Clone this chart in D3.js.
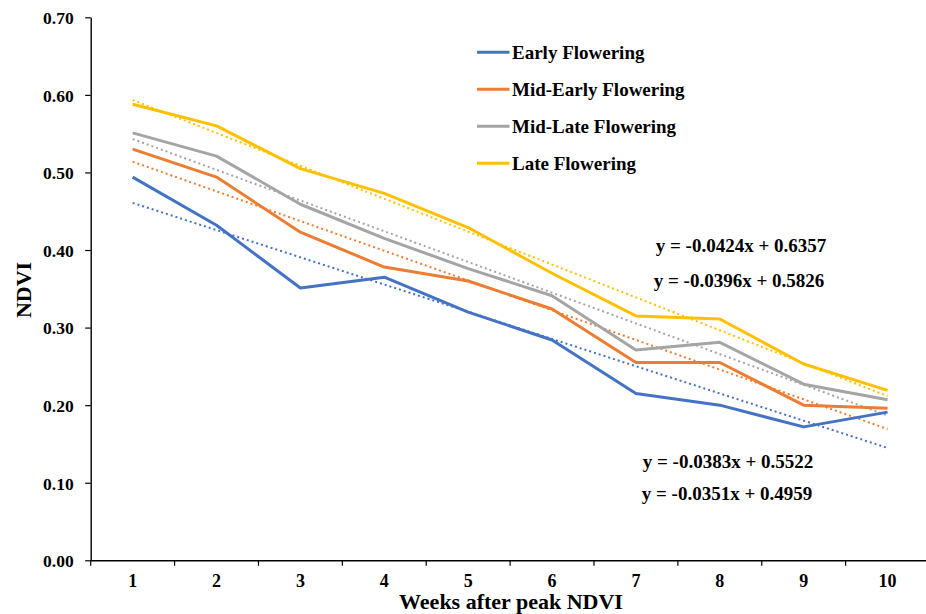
<!DOCTYPE html>
<html>
<head>
<meta charset="utf-8">
<script src="https://cdn.jsdelivr.net/npm/d3@7"></script>
<style>
  body { margin: 0; background: #fff; }
  svg text { font-family: "Liberation Serif", Times, "Times New Roman", "DejaVu Serif", serif; font-weight: bold; fill: #000; }
</style>
</head>
<body>
<div id="chart"></div>
<script>
// chart values
let weeks = [1, 2, 3, 4, 5, 6, 7, 8, 9, 10];
let yTicks = [0, 0.1, 0.2, 0.3, 0.4, 0.5, 0.6, 0.7];
let seriesNames = ["Early Flowering", "Mid-Early Flowering", "Mid-Late Flowering", "Late Flowering"];
let seriesColors = ["#4472C4", "#ED7D31", "#A5A5A5", "#FFC000"];

let early = [0.494, 0.432, 0.351, 0.365, 0.320, 0.284, 0.215, 0.200, 0.172, 0.191];
let midEarly = [0.530, 0.494, 0.423, 0.378, 0.360, 0.324, 0.255, 0.255, 0.200, 0.196];
let midLate = [0.551, 0.521, 0.459, 0.415, 0.376, 0.341, 0.271, 0.281, 0.227, 0.207];
let late = [0.588, 0.560, 0.505, 0.473, 0.429, 0.370, 0.315, 0.311, 0.253, 0.219];

// linear trend lines, as printed on the chart
let slopes = [-0.0351, -0.0383, -0.0396, -0.0424];
let intercepts = [0.4959, 0.5522, 0.5826, 0.6357];

let allSeries = [early, midEarly, midLate, late];

const serif = '"Liberation Serif", Times, "Times New Roman", "DejaVu Serif", serif';

/** set up the svg.*/
let width = 926;
let height = 614;
let margin = { left: 90.7, right: -3.5, top: 17.3, bottom: 53.7 };

let svg = d3.select('#chart')
  .append('svg')
  .attr('width', width)
  .attr('height', height);

let x = d3.scaleBand()
  .domain(weeks)
  .range([margin.left, width - margin.right]);

let y = d3.scaleLinear()
  .domain([0, 0.7])
  .range([height - margin.bottom, margin.top]);

let cx = d => x(d) + x.bandwidth() / 2;

// y axis
let yAxis = svg.append('g')
  .attr('transform', `translate(${margin.left},0)`)
  .call(d3.axisLeft(y).tickValues(yTicks).tickFormat(d3.format('.2f')).tickSize(5.5).tickSizeOuter(0))
  .attr('font-family', serif);
yAxis.select('.domain').attr('stroke-width', 1.4);
yAxis.selectAll('.tick line').attr('stroke-width', 1.2);
yAxis.selectAll('text')
  .attr('x', -17)
  .attr('dy', '0.36em')
  .style('font-size', '17.5px')
  .style('font-family', serif)
  .style('font-weight', 'bold');

// x axis, ticks between categories
let xAxis = svg.append('g')
  .attr('transform', `translate(0,${y(0)})`)
  .call(d3.axisBottom(x).tickSize(0).tickSizeOuter(0))
  .attr('font-family', serif);
xAxis.select('.domain').attr('stroke-width', 1.4);
xAxis.selectAll('text')
  .attr('y', 20.5)
  .attr('dy', '0.36em')
  .style('font-size', '18px')
  .style('font-family', serif)
  .style('font-weight', 'bold');

xAxis.selectAll('.between')
  .data(weeks)
  .enter()
  .append('line')
  .attr('x1', d => x(d))
  .attr('x2', d => x(d))
  .attr('y1', 0)
  .attr('y2', 5.5)
  .attr('stroke', '#000')
  .attr('stroke-width', 1.2);

// trend lines
allSeries.forEach((s, i) => {
  let ends = [weeks[0], weeks[weeks.length - 1]];
  svg.append('line')
    .attr('x1', cx(ends[0]))
    .attr('y1', y(slopes[i] * ends[0] + intercepts[i]))
    .attr('x2', cx(ends[1]))
    .attr('y2', y(slopes[i] * ends[1] + intercepts[i]))
    .attr('stroke', seriesColors[i])
    .attr('stroke-width', 2)
    .attr('stroke-dasharray', '2,3');
});

// data lines
let line = d3.line()
  .x((d, i) => cx(weeks[i]))
  .y(d => y(d));

allSeries.forEach((s, i) => {
  svg.append('path')
    .datum(s)
    .attr('d', line)
    .attr('fill', 'none')
    .attr('stroke', seriesColors[i])
    .attr('stroke-width', 3)
    .attr('stroke-linejoin', 'round');
});

// legend
let legend = svg.append('g').attr('transform', 'translate(477,52.3)');
seriesNames.forEach((name, i) => {
  let row = legend.append('g').attr('transform', `translate(0,${i * 37})`);
  row.append('line')
    .attr('x1', 0).attr('x2', 32.5)
    .attr('y1', 0).attr('y2', 0)
    .attr('stroke', seriesColors[i])
    .attr('stroke-width', 3);
  row.append('text')
    .attr('x', 35)
    .attr('dy', '0.35em')
    .style('font-size', '19px')
    .text(name);
});

// trend equations
let eqPos = [[727, 493], [728, 461], [739, 280], [741, 245]];
let fmt = d3.format('.4f');
slopes.forEach((m, i) => {
  svg.append('text')
    .attr('x', eqPos[i][0])
    .attr('y', eqPos[i][1])
    .attr('dy', '0.35em')
    .attr('text-anchor', 'middle')
    .style('font-size', '19px')
    .text(`y = -${fmt(-m)}x + ${fmt(intercepts[i])}`);
});

// axis titles
svg.append('text')
  .attr('transform', 'translate(23.5,290) rotate(-90)')
  .attr('text-anchor', 'middle')
  .attr('dy', '0.35em')
  .style('font-size', '22px')
  .text('NDVI');

svg.append('text')
  .attr('x', 511)
  .attr('y', 609)
  .attr('text-anchor', 'middle')
  .style('font-size', '22px')
  .text('Weeks after peak NDVI');
</script>
</body>
</html>
